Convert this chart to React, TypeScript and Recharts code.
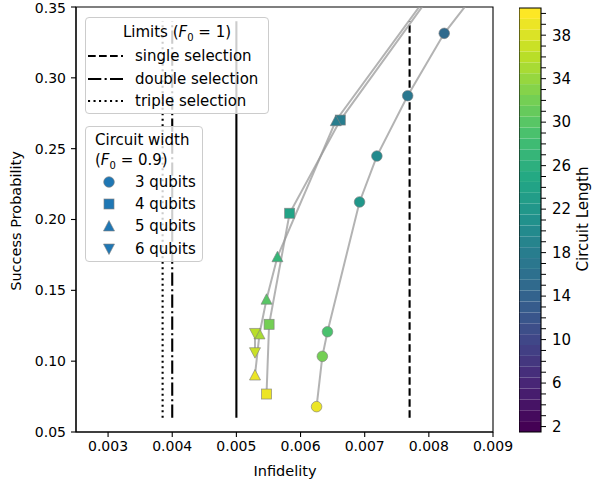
import React from "react";
import { ComposedChart, Scatter, XAxis, YAxis, ReferenceLine, ReferenceArea } from "recharts";

type Pt = { x: number; y: number; len: number };

// points; the first entry of some series sits above the plot and gets clipped
const qubits3: Pt[] = [
  { x: 0.00885, y: 0.367, len: 12 },
  { x: 0.00824, y: 0.3314, len: 15 },
  { x: 0.00767, y: 0.2874, len: 17 },
  { x: 0.00719, y: 0.2448, len: 20 },
  { x: 0.00692, y: 0.2124, len: 22 },
  { x: 0.00642, y: 0.1208, len: 29 },
  { x: 0.00634, y: 0.1034, len: 32 },
  { x: 0.00625, y: 0.0679, len: 39 },
];
const qubits4: Pt[] = [
  { x: 0.00827, y: 0.3736, len: 14 },
  { x: 0.00662, y: 0.2702, len: 18 },
  { x: 0.00583, y: 0.2044, len: 24 },
  { x: 0.00551, y: 0.126, len: 32 },
  { x: 0.00547, y: 0.0768, len: 39 },
];
const qubits5: Pt[] = [
  { x: 0.00822, y: 0.373, len: 14 },
  { x: 0.00655, y: 0.2697, len: 18 },
  { x: 0.00564, y: 0.1737, len: 27 },
  { x: 0.00547, y: 0.1437, len: 30 },
  { x: 0.00536, y: 0.1192, len: 35 },
  { x: 0.00529, y: 0.0902, len: 39 },
];
const qubits6: Pt[] = [
  { x: 0.00529, y: 0.1196, len: 36 },
  { x: 0.00529, y: 0.106, len: 37 },
];

const xTicks = [0.003, 0.004, 0.005, 0.006, 0.007, 0.008, 0.009];
const yTicks = [0.05, 0.1, 0.15, 0.2, 0.25, 0.3, 0.35];

// limit lines (x position) and their vertical extent
const singleLimit = 0.0077;
const doubleLimit = 0.004;
const tripleLimit = 0.00385;
const solidLimit = 0.005;
const limitSpan = [0.06, 0.34];

const lengthLevels = [
  2, 3, 4, 5, 6, 7, 8, 9, 10, 11, 12, 13, 14, 15, 16, 17, 18, 19, 20, 21,
  22, 23, 24, 25, 26, 27, 28, 29, 30, 31, 32, 33, 34, 35, 36, 37, 38, 39, 40,
];
const lengthLabels = [2, 6, 10, 14, 18, 22, 26, 30, 34, 38];

const VIRIDIS = [
  "#440154", "#482475", "#414487", "#355f8d", "#2a788e", "#21918c",
  "#22a884", "#44bf70", "#7ad151", "#bddf26", "#fde725",
];

function hexRgb(h: string) {
  return [1, 3, 5].map((i) => parseInt(h.slice(i, i + 2), 16));
}

function viridis(t: number): string {
  const c = Math.min(1, Math.max(0, t)) * (VIRIDIS.length - 1);
  const i = Math.min(Math.floor(c), VIRIDIS.length - 2);
  const f = c - i;
  const a = hexRgb(VIRIDIS[i]);
  const b = hexRgb(VIRIDIS[i + 1]);
  const rgb = a.map((v, k) => Math.round(v + (b[k] - v) * f));
  return `rgb(${rgb.join(",")})`;
}

const lenColor = (len: number) => viridis((len - 2) / 38);

const FONT = "DejaVu Sans";
const BLUE = "#1f77b4";
const EDGE = { stroke: "#808080", strokeWidth: 0.8, strokeOpacity: 0.8 };

type Kind = "circle" | "square" | "up" | "down";

function Marker({ cx, cy, kind, fill }: { cx: number; cy: number; kind: Kind; fill: string }) {
  if (cx == null || cy == null) return <g />;
  if (kind === "circle") return <circle cx={cx} cy={cy} r={5.3} fill={fill} {...EDGE} />;
  if (kind === "square") return <rect x={cx - 5} y={cy - 5} width={10} height={10} fill={fill} {...EDGE} />;
  const s = 5.5;
  const pts =
    kind === "up"
      ? `${cx},${cy - s} ${cx - s},${cy + s * 0.9} ${cx + s},${cy + s * 0.9}`
      : `${cx},${cy + s} ${cx - s},${cy - s * 0.9} ${cx + s},${cy - s * 0.9}`;
  return <polygon points={pts} fill={fill} {...EDGE} />;
}

const series: { name: string; data: Pt[]; kind: Kind }[] = [
  { name: "3 qubits", data: qubits3, kind: "circle" },
  { name: "4 qubits", data: qubits4, kind: "square" },
  { name: "5 qubits", data: qubits5, kind: "up" },
  { name: "6 qubits", data: qubits6, kind: "down" },
];

const limits = [
  { label: "single selection", x: singleLimit, dash: "7.7 3.3" },
  { label: "double selection", x: doubleLimit, dash: "13.3 3.3 2.1 3.3" },
  { label: "triple selection", x: tripleLimit, dash: "2.1 3.4" },
];

const tickStyle = { fill: "#000", fontSize: 14, fontFamily: FONT };

function LimitsLegend() {
  return (
    <div
      style={{
        position: "absolute", left: 85, top: 17, width: 182, height: 95,
        background: "rgba(255,255,255,0.8)", border: "1px solid #cccccc", borderRadius: 4,
        fontFamily: FONT, fontSize: 15, color: "#000",
      }}
    >
      <div style={{ position: "absolute", top: 4, left: 0, right: 0, textAlign: "center", lineHeight: "20px" }}>
        Limits (<i>F</i><sub style={{ fontSize: 10 }}>0</sub> = 1)
      </div>
      {limits.map((l, i) => (
        <div key={l.label} style={{ position: "absolute", left: 0, top: 28 + i * 22.5, height: 20, width: 182 }}>
          <svg width={40} height={20} style={{ position: "absolute", left: 1, top: 0 }}>
            <line x1={1} x2={36} y1={10} y2={10} stroke="#000" strokeWidth={2.1} strokeDasharray={l.dash} />
          </svg>
          <span style={{ position: "absolute", left: 49, top: 0, lineHeight: "20px", whiteSpace: "nowrap" }}>{l.label}</span>
        </div>
      ))}
    </div>
  );
}

function WidthLegend() {
  return (
    <div
      style={{
        position: "absolute", left: 85, top: 126, width: 116, height: 134,
        background: "rgba(255,255,255,0.8)", border: "1px solid #cccccc", borderRadius: 4,
        fontFamily: FONT, fontSize: 15, color: "#000",
      }}
    >
      <div style={{ position: "absolute", top: 3, left: 9, lineHeight: "20px", whiteSpace: "nowrap" }}>
        Circuit width
        <br />
        (<i>F</i><sub style={{ fontSize: 10 }}>0</sub> = 0.9)
      </div>
      {series.map((s, i) => (
        <div key={s.name} style={{ position: "absolute", left: 0, top: 45 + i * 22.2, height: 20, width: 116 }}>
          <svg width={30} height={20} style={{ position: "absolute", left: 12, top: 0 }}>
            <Marker cx={11} cy={10} kind={s.kind} fill={BLUE} />
          </svg>
          <span style={{ position: "absolute", left: 49, top: 0, lineHeight: "20px", whiteSpace: "nowrap" }}>{s.name}</span>
        </div>
      ))}
    </div>
  );
}

function ColorBar() {
  return (
    <div style={{ position: "absolute", left: 519, top: 0 }}>
      <ComposedChart
        width={73}
        height={483}
        data={[{ x: 0, y: 2 }, { x: 1, y: 40 }]}
        margin={{ top: 8, right: 0, bottom: 51, left: 0 }}
      >
        <XAxis dataKey="x" type="number" domain={[0, 1]} hide />
        <YAxis
          dataKey="y"
          type="number"
          orientation="right"
          domain={[1.5, 40.5]}
          ticks={lengthLevels}
          interval={0}
          width={51}
          tickSize={5}
          tickMargin={6}
          axisLine={false}
          tickLine={{ stroke: "#000", strokeWidth: 1 }}
          tick={{ ...tickStyle, fontSize: 15 }}
          tickFormatter={(v: number) => (lengthLabels.includes(v) ? String(v) : "")}
        />
        {lengthLevels.map((l) => (
          <ReferenceArea key={l} y1={l - 0.5} y2={l + 0.5} fill={lenColor(l)} fillOpacity={1} stroke="none" />
        ))}
        <ReferenceArea y1={1.5} y2={40.5} fill="none" stroke="#000" strokeWidth={1.1} />
      </ComposedChart>
    </div>
  );
}

export default function App() {
  return (
    <div style={{ position: "absolute", left: 0, top: 0, width: 592, height: 483, background: "#fff" }}>
      <ComposedChart width={592} height={483} margin={{ top: 7, right: 99, bottom: 0, left: 8 }}>
        <XAxis
          dataKey="x"
          type="number"
          domain={[0.0025, 0.009]}
          ticks={xTicks}
          allowDataOverflow
          height={51}
          tickSize={5}
          tickMargin={4}
          axisLine={{ stroke: "#000", strokeWidth: 1.1 }}
          tickLine={{ stroke: "#000", strokeWidth: 1.1 }}
          tick={tickStyle}
          tickFormatter={(v: number) => v.toFixed(3)}
        />
        <YAxis
          dataKey="y"
          type="number"
          domain={[0.05, 0.35]}
          ticks={yTicks}
          allowDataOverflow
          width={68}
          tickSize={5}
          tickMargin={5}
          axisLine={{ stroke: "#000", strokeWidth: 1.1 }}
          tickLine={{ stroke: "#000", strokeWidth: 1.1 }}
          tick={tickStyle}
          tickFormatter={(v: number) => v.toFixed(2)}
        />
        <ReferenceArea x1={0.0025} x2={0.009} y1={0.05} y2={0.35} fill="none" stroke="#000" strokeWidth={1.1} />
        {limits.map((l) => (
          <ReferenceLine
            key={l.label}
            segment={[{ x: l.x, y: limitSpan[0] }, { x: l.x, y: limitSpan[1] }]}
            stroke="#000"
            strokeWidth={2.1}
            strokeDasharray={l.dash}
          />
        ))}
        <ReferenceLine
          segment={[{ x: solidLimit, y: limitSpan[0] }, { x: solidLimit, y: limitSpan[1] }]}
          stroke="#000"
          strokeWidth={2.1}
        />
        {series.map((s) => (
          <Scatter
            key={`line-${s.name}`}
            data={s.data}
            line={{ stroke: "#9a9a9a", strokeWidth: 2, strokeOpacity: 0.75 }}
            shape={() => <g />}
            isAnimationActive={false}
          />
        ))}
        {series.map((s) => (
          <Scatter
            key={`pts-${s.name}`}
            data={s.data}
            shape={(p: any) => <Marker cx={p.cx} cy={p.cy} kind={s.kind} fill={lenColor(p.payload.len)} />}
            isAnimationActive={false}
          />
        ))}
      </ComposedChart>
      <ColorBar />
      <LimitsLegend />
      <WidthLegend />
      <svg width={592} height={483} style={{ position: "absolute", left: 0, top: 0, pointerEvents: "none" }}>
        <text x={285} y={476} textAnchor="middle" fontFamily={FONT} fontSize={14.5} fill="#000">
          Infidelity
        </text>
        <text transform="translate(21,221) rotate(-90)" textAnchor="middle" fontFamily={FONT} fontSize={14.5} fill="#000">
          Success Probability
        </text>
        <text transform="translate(588,219) rotate(-90)" textAnchor="middle" fontFamily={FONT} fontSize={15} fill="#000">
          Circuit Length
        </text>
      </svg>
    </div>
  );
}
